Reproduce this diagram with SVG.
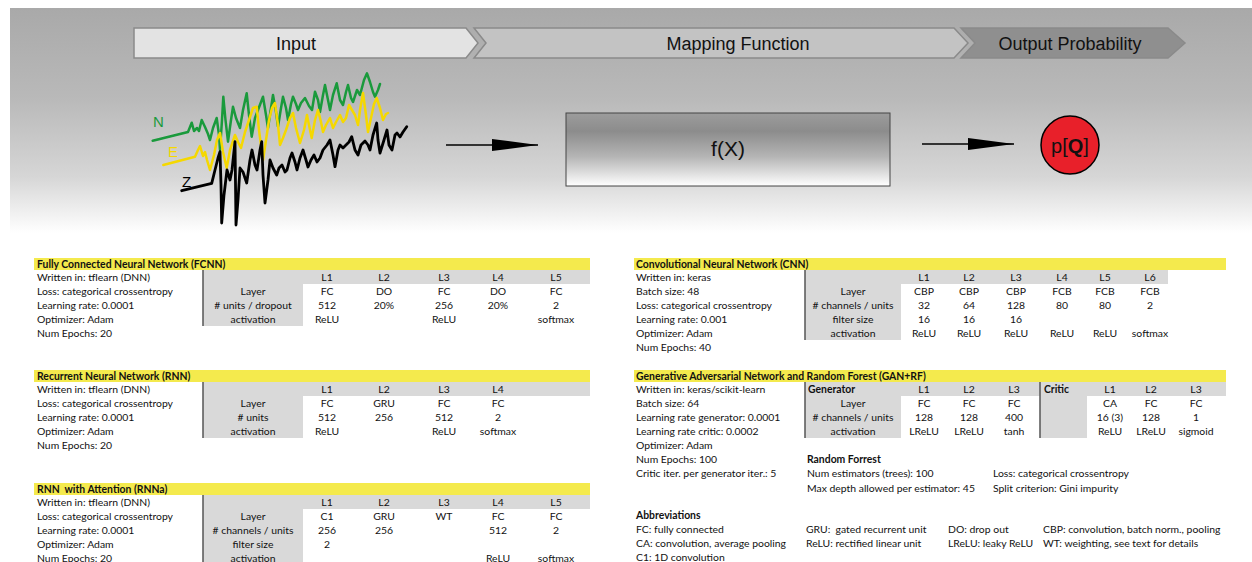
<svg xmlns="http://www.w3.org/2000/svg" width="1252" height="562" viewBox="0 0 1252 562">
<defs>
<linearGradient id="bandGrad" x1="0" y1="8" x2="0" y2="233" gradientUnits="userSpaceOnUse">
<stop offset="0" stop-color="#a9a9a9"/><stop offset="0.4" stop-color="#b9b9b9"/><stop offset="0.75" stop-color="#d6d6d6"/><stop offset="1" stop-color="#ffffff"/>
</linearGradient>
<linearGradient id="fxGrad" x1="0" y1="0" x2="0" y2="1">
<stop offset="0" stop-color="#9c9c9c"/><stop offset="0.25" stop-color="#8c8c8c"/><stop offset="0.6" stop-color="#b5b5b5"/><stop offset="1" stop-color="#ffffff"/>
</linearGradient>
<marker id="ah" viewBox="0 0 46 12" refX="46" refY="6" markerWidth="46" markerHeight="12" markerUnits="userSpaceOnUse" orient="auto">
<path d="M0,0 L46,6 L0,12 z" fill="#000"/>
</marker>
<style>
.chev{stroke:#8a8a8a;stroke-width:1.5}
.ban{font-family:"Liberation Sans",Arial,sans-serif;font-size:18px;fill:#111;text-anchor:middle}
.wave{fill:none;stroke-linejoin:round;stroke-linecap:round}
.t{font-family:Lato,"Liberation Sans",sans-serif;font-size:10.4px;fill:#111}
.b{font-weight:bold}
.c{text-anchor:middle}
.y{fill:#f4ea4d}
.g{fill:#d9d9d9}
.v{stroke:#555;stroke-width:1.5}
.conn{stroke:#000;stroke-width:1.5;fill:none}
</style>
</defs>
<rect x="0" y="0" width="1252" height="562" fill="#fff"/>
<rect id="band" x="10" y="8" width="1242" height="225" fill="url(#bandGrad)"/>

<g id="stage-input">
<polygon class="chev" points="134,28 466,28 478,43 466,58 134,58" fill="#e3e3e3"/>
<text class="ban" x="296" y="50">Input</text>
</g>
<g id="stage-mapping">
<polygon class="chev" points="474,28 954,28 968,43 954,58 474,58 486,43" fill="#c3c3c3"/>
<text class="ban" x="738" y="50">Mapping Function</text>
</g>
<g id="stage-output">
<polygon class="chev" points="961,28 1168,28 1185,43 1168,58 961,58 975,43" fill="#8f8f8f"/>
<text class="ban" x="1070" y="50">Output Probability</text>
</g>

<g id="waveform">
<path class="wave" stroke="#1a9a3c" stroke-width="2.5" d="M152.7,140.7 L188,132 L190,127 L191.7,122.7 L194,131 L197,128 L199,131 L201.7,120 L205,127 L208,134 L210,140 L213,128 L216.7,118 L219,135 L220,150 L222,120 L223.3,96.7 L225.5,120 L228,141.7 L231,120 L233,106.7 L236,118 L240,128 L243,110 L246.7,93.3 L249,115 L251.7,136.7 L255,118 L258,110 L263,96.7 L266,115 L268,128 L271,108 L273,95 L276,112 L278,126.7 L281,108 L283,96.7 L286,108 L288,120 L291,104 L293,96.7 L296,104 L298,110 L301,103 L305,98 L309,106 L312,110 L315,91.7 L318,100 L320,112 L323,95 L325,85 L328,100 L330,110 L333,95 L336.7,83.3 L340,100 L343,105 L346,92 L348,85 L351,98 L353,102 L357,90 L360,95 L364,80 L367,73.3 L370,82 L373,92 L375,96.7 L378,90 L380,84"/>
<path class="wave" stroke="#f5d800" stroke-width="2.5" d="M163.3,165 L195,156.7 L198,150 L200,146 L203,156 L205,152 L207,160 L210,170 L214,155 L217,140 L220,133 L223,152 L226.7,168 L230,150 L235,135 L238,142 L241,148 L245,132 L249,120 L253,108 L256.7,106.7 L259,130 L263,160 L266,140 L269,120 L272,108 L275,103 L278,125 L280,145 L283,138 L286,130 L290,118 L293,113 L296,128 L300,143 L304,130 L307,115 L309,125 L311.7,138 L315,120 L318,110 L321,122 L323,132 L326,125 L330,118 L333,128 L336,122 L340,115 L343,122 L346,118 L349,105 L352,110 L355,115 L358,125 L360,110 L363,93 L366,115 L368,132 L371,118 L374,104 L376.7,98 L380,108 L383,120 L386,114 L388,113"/>
<path class="wave" stroke="#000" stroke-width="2.8" d="M181.7,190.7 L211.7,183.3 L215,170 L218,158 L220,151.7 L221,185 L221.7,223 L224,195 L227,170 L230,180 L232,170 L235,141.7 L236,225 L238,200 L240,168 L243,172 L246.7,183 L250,160 L252,150 L255,165 L257,170 L260,150 L261.7,141.7 L263,175 L265,203 L268,180 L270,160 L273,168 L276.7,175 L279,168 L282,165 L285,172 L287,170 L290,158 L292,153 L295,162 L297,170 L300,158 L303,150 L306,160 L308,167 L311,160 L314,155 L317,162 L320,158 L323,150 L327,145 L330,140 L333,155 L335,166.7 L338,150 L340,145 L343,148 L346,145 L349,142 L351.7,136.7 L355,150 L358,155 L361,145 L365,141 L368,145 L370,150 L373,135 L376.7,123 L378,140 L380,153 L384,140 L387,130 L389,145 L392,150 L395,135 L397,133 L400,137 L403,132 L406.7,126.7"/>
<text x="153" y="127" font-family="Liberation Sans,Arial,sans-serif" font-size="15" fill="#1a9a3c">N</text>
<text x="168" y="157" font-family="Liberation Sans,Arial,sans-serif" font-size="15" fill="#f5d800">E</text>
<text x="182" y="187" font-family="Liberation Sans,Arial,sans-serif" font-size="15" fill="#000">Z</text>
</g>

<g id="fx">
<rect x="566" y="113" width="324" height="73" fill="url(#fxGrad)" stroke="#444" stroke-width="1"/>
<text x="728" y="156" font-family="Liberation Sans,Arial,sans-serif" font-size="21" fill="#111" text-anchor="middle">f(X)</text>
</g>

<g id="pq">
<circle cx="1070" cy="145" r="29" fill="#e8202a" stroke="#000" stroke-width="1.5"/>
<text x="1070" y="153" font-family="Liberation Sans,Arial,sans-serif" font-size="20" fill="#111" text-anchor="middle">p[<tspan font-weight="bold">Q</tspan>]</text>
</g>

<g id="connectors">
<line class="conn" x1="446" y1="145" x2="538" y2="145" marker-end="url(#ah)"/>
<line class="conn" x1="922" y1="144" x2="1014" y2="144" marker-end="url(#ah)"/>
</g>

<g id="fcnn">
<rect class="y" x="34" y="258" width="556" height="12"/>
<rect class="g" x="203" y="270" width="387" height="14"/>
<rect class="g" x="203" y="284" width="100" height="42"/>
<line class="v" x1="203" y1="270" x2="203" y2="326"/>
<text class="t b" x="37" y="267.5">Fully Connected Neural Network (FCNN)</text>
<text class="t" x="37" y="280.5">Written in: tflearn (DNN)</text>
<text class="t" x="37" y="294.5">Loss: categorical crossentropy</text>
<text class="t" x="37" y="308.5">Learning rate: 0.0001</text>
<text class="t" x="37" y="322.5">Optimizer: Adam</text>
<text class="t" x="37" y="336.5">Num Epochs: 20</text>
<g class="t c">
<text x="327" y="280.5">L1</text><text x="384" y="280.5">L2</text><text x="444" y="280.5">L3</text><text x="498" y="280.5">L4</text><text x="556" y="280.5">L5</text>
<text x="253" y="294.5">Layer</text><text x="327" y="294.5">FC</text><text x="384" y="294.5">DO</text><text x="444" y="294.5">FC</text><text x="498" y="294.5">DO</text><text x="556" y="294.5">FC</text>
<text x="253" y="308.5"># units / dropout</text><text x="327" y="308.5">512</text><text x="384" y="308.5">20%</text><text x="444" y="308.5">256</text><text x="498" y="308.5">20%</text><text x="556" y="308.5">2</text>
<text x="253" y="322.5">activation</text><text x="327" y="322.5">ReLU</text><text x="444" y="322.5">ReLU</text><text x="556" y="322.5">softmax</text>
</g>
</g>

<g id="rnn">
<rect class="y" x="34" y="370" width="556" height="12"/>
<rect class="g" x="203" y="382" width="387" height="14"/>
<rect class="g" x="203" y="396" width="100" height="42"/>
<line class="v" x1="203" y1="382" x2="203" y2="438"/>
<text class="t b" x="37" y="379.5">Recurrent Neural Network (RNN)</text>
<text class="t" x="37" y="392.5">Written in: tflearn (DNN)</text>
<text class="t" x="37" y="406.5">Loss: categorical crossentropy</text>
<text class="t" x="37" y="420.5">Learning rate: 0.0001</text>
<text class="t" x="37" y="434.5">Optimizer: Adam</text>
<text class="t" x="37" y="448.5">Num Epochs: 20</text>
<g class="t c">
<text x="327" y="392.5">L1</text><text x="384" y="392.5">L2</text><text x="444" y="392.5">L3</text><text x="498" y="392.5">L4</text>
<text x="253" y="406.5">Layer</text><text x="327" y="406.5">FC</text><text x="384" y="406.5">GRU</text><text x="444" y="406.5">FC</text><text x="498" y="406.5">FC</text>
<text x="253" y="420.5"># units</text><text x="327" y="420.5">512</text><text x="384" y="420.5">256</text><text x="444" y="420.5">512</text><text x="498" y="420.5">2</text>
<text x="253" y="434.5">activation</text><text x="327" y="434.5">ReLU</text><text x="444" y="434.5">ReLU</text><text x="498" y="434.5">softmax</text>
</g>
</g>

<g id="rnna">
<rect class="y" x="34" y="483" width="556" height="12"/>
<rect class="g" x="203" y="495" width="387" height="14"/>
<rect class="g" x="203" y="509" width="100" height="53"/>
<line class="v" x1="203" y1="495" x2="203" y2="562"/>
<text class="t b" x="37" y="492.5">RNN&#160; with Attention (RNNa)</text>
<text class="t" x="37" y="505.5">Written in: tflearn (DNN)</text>
<text class="t" x="37" y="519.5">Loss: categorical crossentropy</text>
<text class="t" x="37" y="533.5">Learning rate: 0.0001</text>
<text class="t" x="37" y="547.5">Optimizer: Adam</text>
<text class="t" x="37" y="561.5">Num Epochs: 20</text>
<g class="t c">
<text x="327" y="505.5">L1</text><text x="384" y="505.5">L2</text><text x="444" y="505.5">L3</text><text x="498" y="505.5">L4</text><text x="556" y="505.5">L5</text>
<text x="253" y="519.5">Layer</text><text x="327" y="519.5">C1</text><text x="384" y="519.5">GRU</text><text x="444" y="519.5">WT</text><text x="498" y="519.5">FC</text><text x="556" y="519.5">FC</text>
<text x="253" y="533.5"># channels / units</text><text x="327" y="533.5">256</text><text x="384" y="533.5">256</text><text x="498" y="533.5">512</text><text x="556" y="533.5">2</text>
<text x="253" y="547.5">filter size</text><text x="327" y="547.5">2</text>
<text x="253" y="561.5">activation</text><text x="498" y="561.5">ReLU</text><text x="556" y="561.5">softmax</text>
</g>
</g>

<g id="cnn">
<rect class="y" x="634" y="258" width="592" height="12"/>
<rect class="g" x="805" y="270" width="363" height="14"/>
<rect class="g" x="805" y="284" width="96" height="56"/>
<line class="v" x1="805" y1="270" x2="805" y2="340"/>
<text class="t b" x="636" y="267.5">Convolutional Neural Network (CNN)</text>
<text class="t" x="636" y="280.5">Written in: keras</text>
<text class="t" x="636" y="294.5">Batch size: 48</text>
<text class="t" x="636" y="308.5">Loss: categorical crossentropy</text>
<text class="t" x="636" y="322.5">Learning rate: 0.001</text>
<text class="t" x="636" y="336.5">Optimizer: Adam</text>
<text class="t" x="636" y="350.5">Num Epochs: 40</text>
<g class="t c">
<text x="924" y="280.5">L1</text><text x="969" y="280.5">L2</text><text x="1016" y="280.5">L3</text><text x="1062" y="280.5">L4</text><text x="1105" y="280.5">L5</text><text x="1150" y="280.5">L6</text>
<text x="853" y="294.5">Layer</text><text x="924" y="294.5">CBP</text><text x="969" y="294.5">CBP</text><text x="1016" y="294.5">CBP</text><text x="1062" y="294.5">FCB</text><text x="1105" y="294.5">FCB</text><text x="1150" y="294.5">FCB</text>
<text x="853" y="308.5"># channels / units</text><text x="924" y="308.5">32</text><text x="969" y="308.5">64</text><text x="1016" y="308.5">128</text><text x="1062" y="308.5">80</text><text x="1105" y="308.5">80</text><text x="1150" y="308.5">2</text>
<text x="853" y="322.5">filter size</text><text x="924" y="322.5">16</text><text x="969" y="322.5">16</text><text x="1016" y="322.5">16</text>
<text x="853" y="336.5">activation</text><text x="924" y="336.5">ReLU</text><text x="969" y="336.5">ReLU</text><text x="1016" y="336.5">ReLU</text><text x="1062" y="336.5">ReLU</text><text x="1105" y="336.5">ReLU</text><text x="1150" y="336.5">softmax</text>
</g>
</g>

<g id="gan">
<rect class="y" x="634" y="370" width="592" height="12"/>
<rect class="g" x="805" y="382" width="421" height="14"/>
<rect class="g" x="805" y="396" width="96" height="42"/>
<rect class="g" x="1040" y="396" width="47" height="42"/>
<line class="v" x1="805" y1="382" x2="805" y2="438"/>
<line class="v" x1="1040" y1="382" x2="1040" y2="438"/>
<text class="t b" x="636" y="379.5">Generative Adversarial Network and Random Forest (GAN+RF)</text>
<text class="t" x="636" y="392.5">Written in: keras/scikit-learn</text>
<text class="t" x="636" y="406.5">Batch size: 64</text>
<text class="t" x="636" y="420.5">Learning rate generator: 0.0001</text>
<text class="t" x="636" y="434.5">Learning rate critic: 0.0002</text>
<text class="t" x="636" y="448.5">Optimizer: Adam</text>
<text class="t" x="636" y="462.5">Num Epochs: 100</text>
<text class="t" x="636" y="476.5">Critic iter. per generator iter.: 5</text>
<text class="t b" x="808" y="392.5">Generator</text>
<text class="t b" x="1044" y="392.5">Critic</text>
<g class="t c">
<text x="924" y="392.5">L1</text><text x="969" y="392.5">L2</text><text x="1014" y="392.5">L3</text><text x="1110" y="392.5">L1</text><text x="1151" y="392.5">L2</text><text x="1196" y="392.5">L3</text>
<text x="853" y="406.5">Layer</text><text x="924" y="406.5">FC</text><text x="969" y="406.5">FC</text><text x="1014" y="406.5">FC</text><text x="1110" y="406.5">CA</text><text x="1151" y="406.5">FC</text><text x="1196" y="406.5">FC</text>
<text x="853" y="420.5"># channels / units</text><text x="924" y="420.5">128</text><text x="969" y="420.5">128</text><text x="1014" y="420.5">400</text><text x="1110" y="420.5">16 (3)</text><text x="1151" y="420.5">128</text><text x="1196" y="420.5">1</text>
<text x="853" y="434.5">activation</text><text x="924" y="434.5">LReLU</text><text x="969" y="434.5">LReLU</text><text x="1014" y="434.5">tanh</text><text x="1110" y="434.5">ReLU</text><text x="1151" y="434.5">LReLU</text><text x="1196" y="434.5">sigmoid</text>
</g>
<text class="t b" x="807" y="462.5">Random Forrest</text>
<text class="t" x="807" y="476.5">Num estimators (trees): 100</text>
<text class="t" x="807" y="491.5">Max depth allowed per estimator: 45</text>
<text class="t" x="993" y="476.5">Loss: categorical crossentropy</text>
<text class="t" x="993" y="491.5">Split criterion: Gini impurity</text>
</g>

<g id="abbrev">
<text class="t b" x="636" y="518.5">Abbreviations</text>
<text class="t" x="636" y="532.5">FC: fully connected</text>
<text class="t" x="806" y="532.5">GRU:&#160; gated recurrent unit</text>
<text class="t" x="948" y="532.5">DO: drop out</text>
<text class="t" x="1043" y="532.5">CBP: convolution, batch norm., pooling</text>
<text class="t" x="636" y="546.5">CA: convolution, average pooling</text>
<text class="t" x="806" y="546.5">ReLU: rectified linear unit</text>
<text class="t" x="948" y="546.5">LReLU: leaky ReLU</text>
<text class="t" x="1043" y="546.5">WT: weighting, see text for details</text>
<text class="t" x="636" y="560.5">C1: 1D convolution</text>
</g>
</svg>
